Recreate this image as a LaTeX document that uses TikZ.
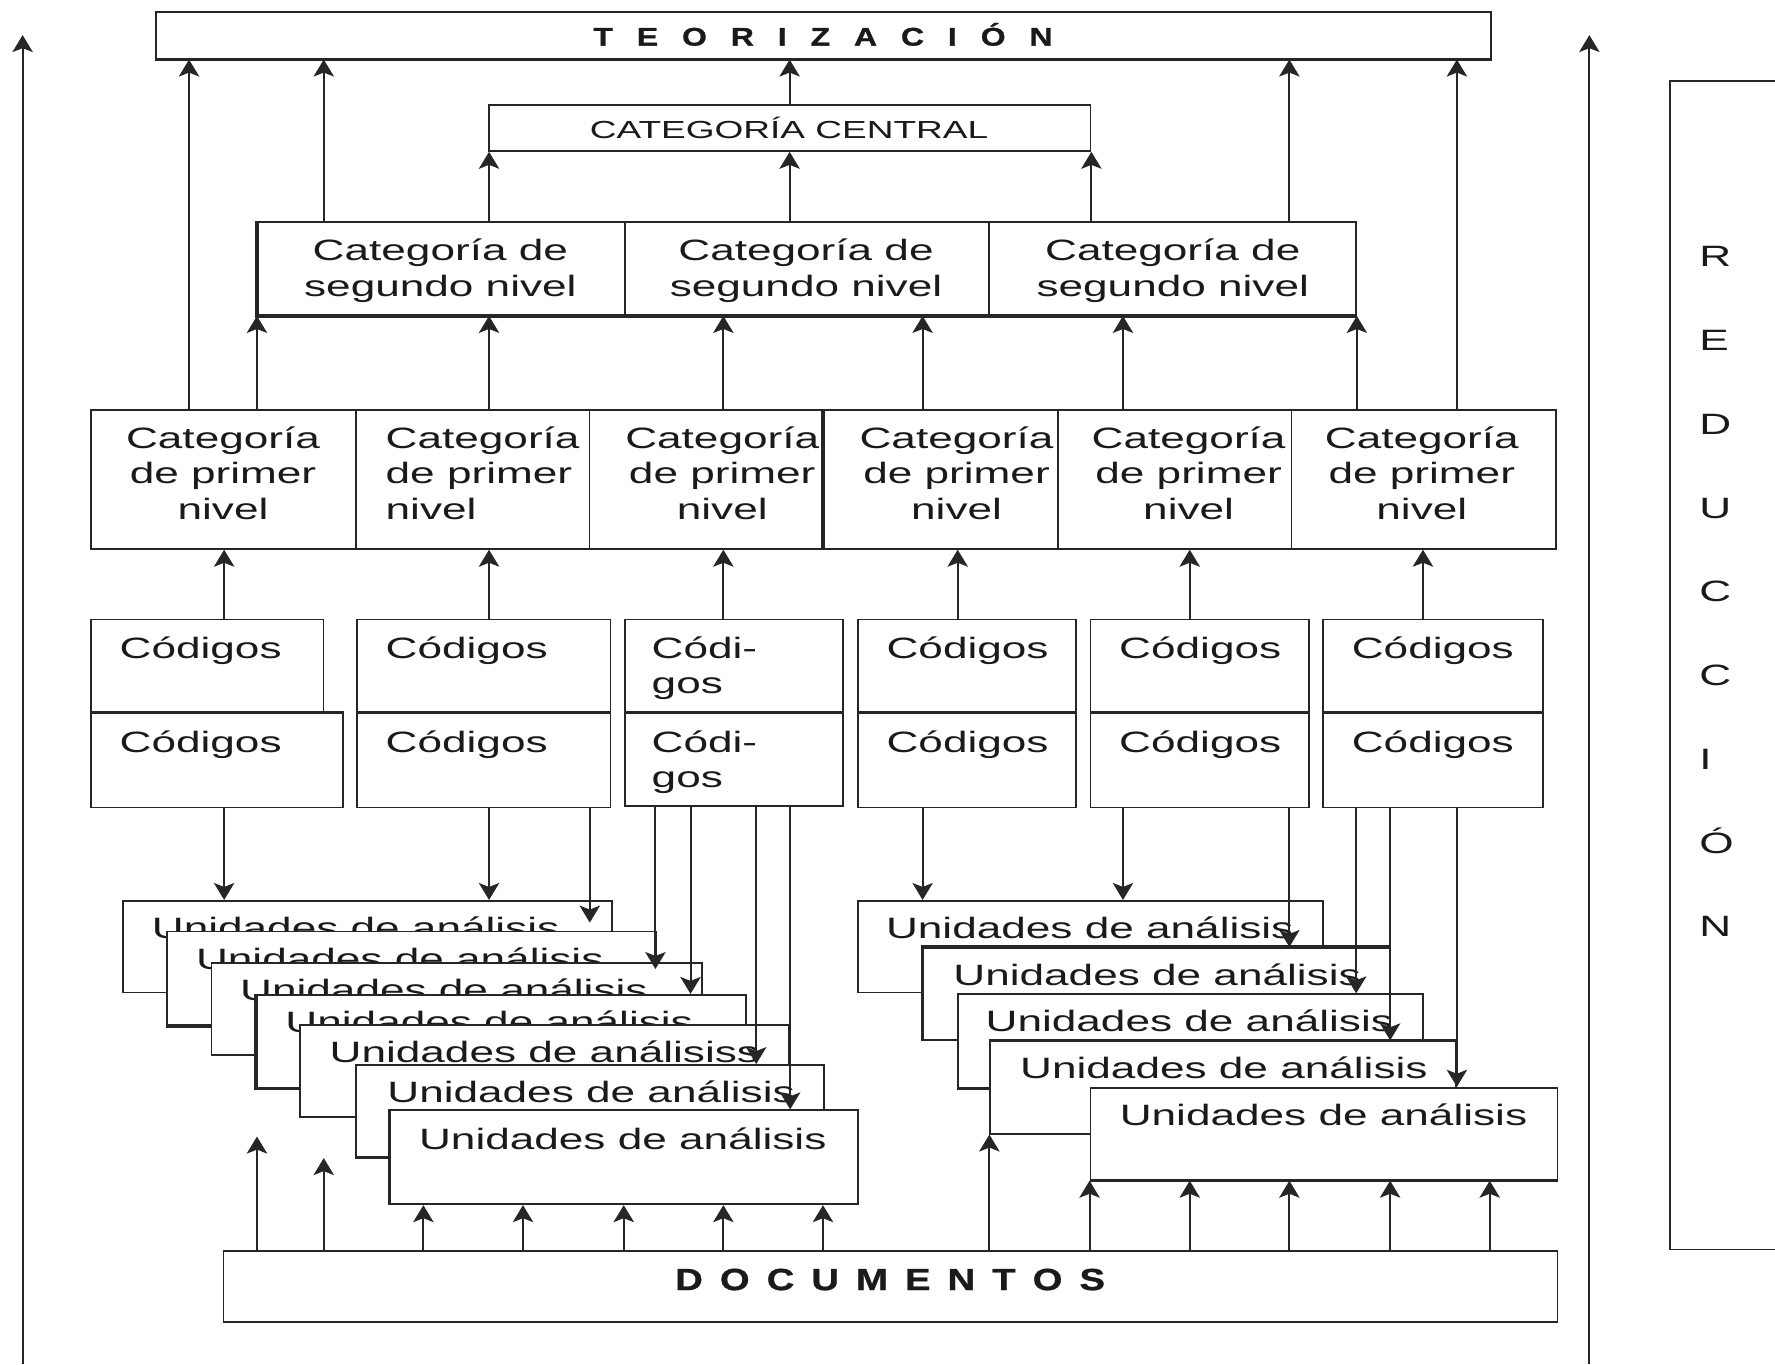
\documentclass[tikz,border=0pt]{standalone}
\usepackage{fontspec}
\setmainfont{Liberation Sans}[FakeStretch=1.5]
\newfontfamily\headfont{Liberation Sans}[FakeStretch=1.25,FakeBold=1]
\usetikzlibrary{arrows.meta,calc}
\definecolor{ink}{HTML}{262626}
\definecolor{txt}{HTML}{1A1A1A}
\newcommand{\txtstack}[2][c]{\begin{tabular}[t]{@{}#1@{}}#2\end{tabular}}
\newcommand{\mkbox}[5]{\node[box, minimum width=#4pt, minimum height=#5pt] (#1) at (#2,#3) {};}
\tikzset{
  box/.style={draw=ink, line width=1.6pt, fill=white, inner sep=0pt, anchor=north west},
  heavy/.style={draw=ink, line width=3pt, line cap=butt},
  arr/.style={draw=ink, line width=1.8pt, -{Stealth[length=15pt,width=18pt,inset=3.5pt]}},
  lbl/.style={inner sep=0pt, text=txt, font=\fontsize{26}{31.5}\selectfont},
  head/.style={inner sep=0pt, text=txt, anchor=base west}
}
\begin{document}
\begin{tikzpicture}[x=1pt,y=-1pt]
\useasboundingbox (0,0) rectangle (1568,1205);

% columns used by the vertical connectors
\foreach \v in {167,198,227,286,374,432,462,521,551,579,610,639,668,698,727,
                815,846,874,992,1051,1139,1198,1228,1257,1287,1316}
  {\coordinate (v\v) at (\v,0);}

% ---- side frame: REDUCCION ----
\mkbox{red}{1474.5}{70.7}{120}{1032.3}
\node[lbl, anchor=base west, font=\fontsize{26}{74}\selectfont] (redt) at (1501,235.6)
  {\txtstack[l]{R\\E\\D\\U\\C\\C\\I\\Ó\\N}};

% ---- top ----
\mkbox{teo}{137}{10}{1179}{41}
\draw[heavy] (teo.south west) -- (teo.south east);
\node[head, font=\headfont\bfseries\fontsize{22.6}{27}\selectfont] (teot) at (524,40.3)
  {\spaceskip=21.1pt\relax T E O R I Z A C I Ó N};

\mkbox{cc}{431}{92}{531.5}{40.5}
\node[lbl, anchor=base, font=\fontsize{21.8}{26}\selectfont] (cct) at (697,122.2) {CATEGORÍA CENTRAL};

% ---- second level ----
\mkbox{s1}{227}{195}{324}{82.5}
\mkbox{s2}{551}{195}{322}{82.5}
\mkbox{s3}{873}{195}{324}{82.5}
\draw[heavy] (s1.north west) -- (s1.south west) -- (s3.south east);
\node[lbl, anchor=base, font=\fontsize{26}{32}\selectfont] (s1t) at (389,230) {\txtstack{Categoría de\\segundo nivel}};
\node[lbl, anchor=base, font=\fontsize{26}{32}\selectfont] (s2t) at (712,230) {\txtstack{Categoría de\\segundo nivel}};
\node[lbl, anchor=base, font=\fontsize{26}{32}\selectfont] (s3t) at (1036,230) {\txtstack{Categoría de\\segundo nivel}};

% ---- first level ----
\mkbox{p1}{79.5}{361.5}{234.5}{122.5}
\mkbox{p2}{314}{361.5}{206}{122.5}
\mkbox{p3}{520}{361.5}{207}{122.5}
\mkbox{p4}{727}{361.5}{207}{122.5}
\mkbox{p5}{934}{361.5}{206}{122.5}
\mkbox{p6}{1140}{361.5}{234}{122.5}
\draw[heavy] (p4.north west) -- (p4.south west);
\node[lbl, anchor=base] (p1t) at (197,396) {\txtstack{Categoría\\de primer\\nivel}};
\node[lbl, anchor=base west] (p2t) at (340.5,396) {\txtstack[l]{Categoría\\de primer\\nivel}};
\node[lbl, anchor=base] (p3t) at (638,396) {\txtstack{Categoría\\de primer\\nivel}};
\node[lbl, anchor=base] (p4t) at (845,396) {\txtstack{Categoría\\de primer\\nivel}};
\node[lbl, anchor=base] (p5t) at (1050,396) {\txtstack{Categoría\\de primer\\nivel}};
\node[lbl, anchor=base] (p6t) at (1256,396) {\txtstack{Categoría\\de primer\\nivel}};

% ---- codes ----
\mkbox{a1}{79.5}{546.5}{205.5}{83}
\mkbox{b1}{79.5}{629.5}{222.5}{83}
\mkbox{a2}{314.5}{546.5}{224}{83}
\mkbox{b2}{314.5}{629.5}{224}{83}
\mkbox{a3}{551}{546.5}{193}{83}
\mkbox{b3}{551}{629.5}{193}{82}
\mkbox{a4}{757}{546.5}{193}{83}
\mkbox{b4}{757}{629.5}{193}{83}
\mkbox{a5}{962.5}{546.5}{193}{83}
\mkbox{b5}{962.5}{629.5}{193}{83}
\mkbox{a6}{1168}{546.5}{194}{83}
\mkbox{b6}{1168}{629.5}{194}{83}
\foreach \k in {1,...,6} {\draw[heavy] (b\k.north west) -- (b\k.north east);}
\foreach \k in {1,2,4,5,6} {
  \node[lbl, anchor=base west] (a\k t) at ($(a\k.north west)+(26,35)$) {Códigos};
  \node[lbl, anchor=base west] (b\k t) at ($(b\k.north west)+(26,35)$) {Códigos};
}
\node[lbl, anchor=base west, font=\fontsize{26}{31}\selectfont] (a3t) at ($(a3.north west)+(24.5,35)$) {\txtstack[l]{Códi-\\gos}};
\node[lbl, anchor=base west, font=\fontsize{26}{31}\selectfont] (b3t) at ($(b3.north west)+(24.5,35)$) {\txtstack[l]{Códi-\\gos}};

% ---- units of analysis, left stack ----
\mkbox{u1}{108}{795}{432}{81}
\node[lbl, anchor=base west] (u1t) at ($(u1.north west)+(26,34)$) {Unidades de análisis};
\mkbox{u2}{147}{822}{432}{83}
\draw[heavy] (u2.south west) -- (u2.south east);
\node[lbl, anchor=base west] (u2t) at ($(u2.north west)+(26,34)$) {Unidades de análisis};
\mkbox{u3}{186}{850}{433}{81}
\node[lbl, anchor=base west] (u3t) at ($(u3.north west)+(26,34)$) {Unidades de análisis};
\mkbox{u4}{226}{878}{432}{82}
\draw[heavy] (u4.north west) -- (u4.south west) -- (u4.south east);
\node[lbl, anchor=base west] (u4t) at ($(u4.north west)+(26,34)$) {Unidades de análisis};
\mkbox{u5}{264}{905}{432}{81}
\node[lbl, anchor=base west] (u5t) at ($(u5.north west)+(27,34)$) {Unidades de análisiss};
\mkbox{u6}{314}{940}{413}{81}
\draw[heavy] (u6.south west) -- (u6.south east);
\node[lbl, anchor=base west] (u6t) at ($(u6.north west)+(28,34)$) {Unidades de análisis};
\mkbox{u7}{344}{980}{413}{83}
\draw[heavy] (u7.north west) -- (u7.south west);
\node[lbl, anchor=base west] (u7t) at ($(u7.north west)+(26,35)$) {Unidades de análisis};

% ---- units of analysis, right stack ----
\mkbox{r1}{757}{795}{411}{81}
\node[lbl, anchor=base west] (r1t) at ($(r1.north west)+(25.5,34)$) {Unidades de análisis};
\mkbox{r2}{815}{836.5}{412.5}{81.5}
\draw[heavy] (r2.south west) -- (r2.north west) -- (r2.north east);
\node[lbl, anchor=base west] (r2t) at ($(r2.north west)+(27,34)$) {Unidades de análisis};
\mkbox{r3}{845.5}{877.5}{410.5}{82.5}
\draw[heavy] (r3.south west) -- (r3.south east);
\node[lbl, anchor=base west] (r3t) at ($(r3.north west)+(25,34)$) {Unidades de análisis};
\mkbox{r4}{874}{919}{411.7}{81.6}
\draw[heavy] (r4.north west) -- (r4.north east);
\node[lbl, anchor=base west] (r4t) at ($(r4.north west)+(27,34)$) {Unidades de análisis};
\mkbox{r5}{962.5}{960}{412.5}{81.4}
\draw[heavy] (r5.south west) -- (r5.south east);
\node[lbl, anchor=base west] (r5t) at ($(r5.north west)+(26.5,34)$) {Unidades de análisis};

% ---- documents ----
\mkbox{doc}{196.7}{1104.6}{1178.3}{62.4}
\node[head, font=\headfont\bfseries\fontsize{27}{32}\selectfont] (doct) at (596.3,1139.6)
  {\spaceskip=15.1pt\relax D O C U M E N T O S};

% free ends
\coordinate (lbot) at (20,1205);   \coordinate (ltop) at (20,31);
\coordinate (rbot) at (1404,1205); \coordinate (rtop) at (1404,31);
\coordinate (uin1) at (521,815);   \coordinate (uin2) at (579,856);
\coordinate (dfa) at (227,1004);   \coordinate (dfb) at (286,1023);

% ---- connectors ----
\draw[arr] (lbot) -- (ltop);
\draw[arr] (rbot) -- (rtop);

% into the theory box
\draw[arr] (p1.north -| v167) -- (teo.south -| v167);
\draw[arr] (s1.north -| v286) -- (teo.south -| v286);
\draw[arr] (cc.north) -- (teo.south -| cc.north);
\draw[arr] (s3.north -| v1139) -- (teo.south -| v1139);
\draw[arr] (p6.north -| v1287) -- (teo.south -| v1287);

% into the central category
\draw[arr] (s1.north -| v432) -- (cc.south -| v432);
\draw[arr] (s2.north -| cc.south) -- (cc.south);
\draw[arr] (s3.north -| cc.south east) -- (cc.south east);

% into the second level
\draw[arr] (p1.north -| s1.south west) -- (s1.south west);
\draw[arr] (p2.north -| v432) -- (s1.south -| v432);
\draw[arr] (p3.north -| v639) -- (s2.south -| v639);
\draw[arr] (p4.north -| v815) -- (s2.south -| v815);
\draw[arr] (p5.north -| v992) -- (s3.south -| v992);
\draw[arr] (p6.north -| s3.south east) -- (s3.south east);

% codes into the first level
\draw[arr] (a1.north -| v198) -- (p1.south -| v198);
\draw[arr] (a2.north -| v432) -- (p2.south -| v432);
\draw[arr] (a3.north -| v639) -- (p3.south -| v639);
\draw[arr] (a4.north -| v846) -- (p4.south -| v846);
\draw[arr] (a5.north -| v1051) -- (p5.south -| v1051);
\draw[arr] (a6.north -| v1257) -- (p6.south -| v1257);

% codes down to the units, left stack
\draw[arr] (b1.south -| v198) -- (u1.north -| v198);
\draw[arr] (b2.south -| v432) -- (u1.north -| v432);
\draw[arr] (b2.south -| v521) -- (uin1);
\draw[arr] (b3.south -| v579) -- (uin2);
\draw[arr] (b3.south -| v610) -- (u4.north -| v610);
\draw[arr] (b3.south -| v668) -- (u6.north -| v668);
\draw[arr] (b3.south -| v698) -- (u7.north -| v698);

% codes down to the units, right stack
\draw[arr] (b4.south -| v815) -- (r1.north -| v815);
\draw[arr] (b5.south -| v992) -- (r1.north -| v992);
\draw[arr] (b5.south -| v1139) -- (r2.north -| v1139);
\draw[arr] (b6.south -| v1198) -- (r3.north -| v1198);
\draw[arr] (b6.south -| v1228) -- (r4.north -| v1228);
\draw[arr] (b6.south -| v1287) -- (r5.north -| v1287);

% documents up to the units
\draw[arr] (doc.north -| v227) -- (dfa);
\draw[arr] (doc.north -| v286) -- (dfb);
\foreach \c in {374,462,551,639,727}
  {\draw[arr] (doc.north -| v\c) -- (u7.south -| v\c);}
\draw[arr] (doc.north -| v874) -- (r4.south -| v874);
\draw[arr] (doc.north -| r5.south west) -- (r5.south west);
\foreach \c in {1051,1139,1228,1316}
  {\draw[arr] (doc.north -| v\c) -- (r5.south -| v\c);}
\end{tikzpicture}
\end{document}
